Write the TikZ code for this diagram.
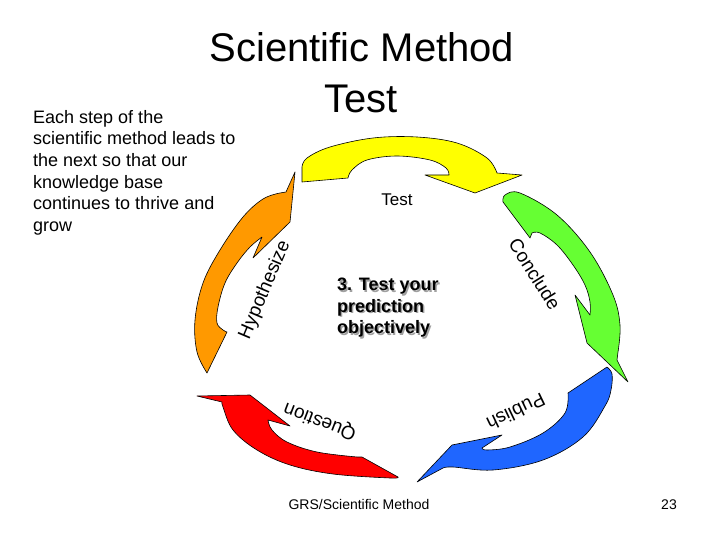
\documentclass[tikz,border=0pt]{standalone}
\usepackage{fontspec}
\setmainfont{Liberation Sans}
\definecolor{ayellow}{HTML}{FFFF00}
\definecolor{aorange}{HTML}{FF9900}
\definecolor{agreen}{HTML}{66FF33}
\definecolor{ablue}{HTML}{1F66FF}
\definecolor{ared}{HTML}{FF0000}
\definecolor{shadowgray}{HTML}{A0A0A0}
\tikzset{
  arrowshape/.style={draw=black, line width=0.6pt, line join=round},
  bodytext/.style={anchor=base west, inner sep=0pt, font=\fontsize{18}{21.6}\selectfont},
  steplabel/.style={inner sep=0pt, font=\fontsize{19}{22}\selectfont},
  boldline/.style={anchor=base west, inner sep=0pt, font=\fontsize{18}{21.6}\selectfont\bfseries},
  foot/.style={anchor=base, inner sep=0pt, font=\fontsize{14}{16}\selectfont},
}
\begin{document}
\begin{tikzpicture}[x=1pt,y=-1pt]
\useasboundingbox (0,0) rectangle (720,540);
\fill[white] (0,0) rectangle (720,540);

% Title
\node[anchor=base, inner sep=0pt, font=\fontsize{40}{48}\selectfont] (title1) at (362,62) {Scientific Method};
\node[anchor=base, inner sep=0pt, font=\fontsize{40}{48}\selectfont] (title2) at (361,113) {Test};

% Body text
\node[bodytext] (b1) at (33,123.3) {Each step of the};
\node[bodytext] (b2) at (33,144.9) {scientific method leads to};
\node[bodytext] (b3) at (33,166.5) {the next so that our};
\node[bodytext] (b4) at (33,188.1) {knowledge base};
\node[bodytext] (b5) at (33,209.7) {continues to thrive and};
\node[bodytext] (b6) at (33,231.3) {grow};

% Yellow arrow (Test)
\filldraw[arrowshape, fill=ayellow] (302,167) -- (302,182) -- (348,178)
  -- plot[smooth, tension=0.6] coordinates {(348,178) (352,170) (367,160) (397,156) (430,160) (446,168) (449,175)}
  -- (425,175) -- (475,193) -- (522,175) -- (497,173)
  -- plot[smooth, tension=0.6] coordinates {(497,173) (487,158) (457,143) (417,137) (373,138) (330,147) (307,158) (302,167)}
  -- cycle;

% Orange arrow (Hypothesize)
\filldraw[arrowshape, fill=aorange] (295,172) -- (290,222) -- (253,258) -- (262,237)
  -- plot[smooth, tension=0.6] coordinates {(262,237) (250,247) (237,263) (225,283) (218,307) (217,323) (223,330) (227,332)}
  -- (207,373)
  -- plot[smooth, tension=0.6] coordinates {(207,373) (197,352) (195,320) (203,283) (220,250) (243,217) (263,199) (280,193)}
  -- (286,192) -- cycle;

% Green arrow (Conclude)
\filldraw[arrowshape, fill=agreen] (503,202)
  -- plot[smooth, tension=0.6] coordinates {(503,202) (505,195) (520,193) (557,215) (590,252) (613,295) (620,325) (618,352)}
  -- (617,360) -- (628,382) -- (587,343) -- (575,295) -- (590,315)
  -- plot[smooth, tension=0.6] coordinates {(590,315) (590,302) (585,285) (573,265) (557,245) (540,233) (532,233)}
  -- (530,238) -- cycle;

% Blue arrow (Publish)
\filldraw[arrowshape, fill=ablue] (417,482) -- (452,445) -- (502,435) -- (482,448)
  -- plot[smooth, tension=0.6] coordinates {(482,448) (487,450) (510,447) (543,433) (565,413) (568,393)}
  -- (607,367)
  -- plot[smooth, tension=0.6] coordinates {(607,367) (612,374) (611,390) (605,406) (583,437) (543,460) (493,470) (453,467) (443,468)}
  -- cycle;

% Red arrow (Question)
\filldraw[arrowshape, fill=ared] (197,396) -- (250,395) -- (290,426) -- (268,420)
  -- plot[smooth, tension=0.6] coordinates {(268,420) (272,430) (287,442) (317,452) (357,457)}
  -- (362,457) -- (398,477)
  -- plot[smooth, tension=0.6] coordinates {(398,477) (390,478) (333,474) (290,465) (257,450) (233,430) (223,407) (222,402)}
  -- cycle;

% Step labels
\node[anchor=base, inner sep=0pt, font=\fontsize{17}{20}\selectfont] (ltest) at (397,206) {Test};
\node[steplabel, rotate=67] (lhyp) at (265,290) {Hypothesize};
\node[steplabel, rotate=-58] (lconc) at (535,274) {Conclude};
\node[steplabel, rotate=205.6] (lpub) at (516,412) {Publish};
\node[steplabel, rotate=159] (lques) at (320,421) {Question};

% Centre text with shadow
\node[boldline, text=shadowgray] (s1) at (338.5,292.2) {3. Test your};
\node[boldline, text=shadowgray] (s2) at (338.5,313.8) {prediction};
\node[boldline, text=shadowgray] (s3) at (338.5,335.4) {objectively};
\node[boldline] (c1) at (337,290.7) {3. Test your};
\node[boldline] (c2) at (337,312.3) {prediction};
\node[boldline] (c3) at (337,333.9) {objectively};

% Footer
\node[foot] (footer) at (359,509) {GRS/Scientific Method};
\node[foot] (pagenum) at (669,509) {23};
\end{tikzpicture}
\end{document}
